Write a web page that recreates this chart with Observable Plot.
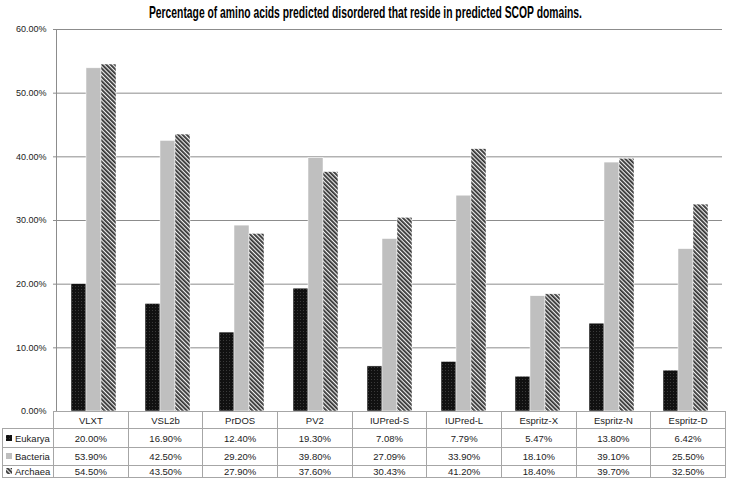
<!DOCTYPE html>
<html>
<head>
<meta charset="utf-8">
<script src="https://cdn.jsdelivr.net/npm/d3@7"></script>
<script src="https://cdn.jsdelivr.net/npm/@observablehq/plot@0.6"></script>
<style>
  html, body { margin: 0; padding: 0; background: #fff; }
  body { width: 731px; height: 480px; overflow: hidden; font-family: "Liberation Sans", sans-serif; position: relative; }
  #title { height: 22px; line-height: 22px; text-align: center; color: #000; padding-top: 2px; box-sizing: border-box; white-space: nowrap; }
  #title span { display: inline-block; font-weight: bold; font-size: 17px; transform-origin: center center; }
  #chart svg { display: block; overflow: visible; }
  #tbl { position: relative; margin-top: -8px; }
  table { border-collapse: collapse; margin-left: 2px; table-layout: fixed; font-size: 9.5px; color: #222; }
  td { border: 1px solid #a6a6a6; text-align: center; padding: 0; white-space: nowrap; }
  td.lab { text-align: left; padding-left: 3px; }
  td.corner { border-top: none; border-left: none; }
  .sw { display: inline-block; vertical-align: middle; margin-right: 3px; position: relative; top: -1px; }
</style>
</head>
<body>
<div id="title"><span>Percentage of amino acids predicted disordered that reside in predicted SCOP domains.</span></div>
<div id="chart"></div>
<div id="tbl"></div>
<script>
const categories = ["VLXT", "VSL2b", "PrDOS", "PV2", "IUPred-S", "IUPred-L", "Espritz-X", "Espritz-N", "Espritz-D"];
const series = ["Eukarya", "Bacteria", "Archaea"];
const eukarya  = [20.00, 16.90, 12.40, 19.30, 7.08, 7.79, 5.47, 13.80, 6.42];
const bacteria = [53.90, 42.50, 29.20, 39.80, 27.09, 33.90, 18.10, 39.10, 25.50];
const archaea  = [54.50, 43.50, 27.90, 37.60, 30.43, 41.20, 18.40, 39.70, 32.50];
const yTicks = [0, 10, 20, 30, 40, 50, 60];

const valuesBySeries = {Eukarya: eukarya, Bacteria: bacteria, Archaea: archaea};
const fmt = v => v.toFixed(2) + "%";
const data = categories.flatMap((c, i) => series.map(s => ({cat: c, s, v: valuesBySeries[s][i]})));
const fills = ["url(#pEuk)", "url(#pBac)", "url(#pArc)"];

// title: condense the bold sans to the narrow width of the original
const tspan = document.querySelector("#title span");
const tw = tspan.getBoundingClientRect().width;
tspan.style.transform = `scaleX(${433 / tw})`;

// shared pattern defs
const defs = `<svg width="0" height="0" style="position:absolute">
<defs>
  <pattern id="pEuk" width="3" height="3" patternUnits="userSpaceOnUse">
    <rect width="3" height="3" fill="#111"/>
    <rect x="0" y="0" width="1" height="1" fill="#3a3a3a"/>
  </pattern>
  <pattern id="pBac" width="4" height="4" patternUnits="userSpaceOnUse">
    <rect width="4" height="4" fill="#bfbfbf"/>
  </pattern>
  <pattern id="pArc" width="3" height="3" patternUnits="userSpaceOnUse" patternTransform="rotate(-45)">
    <rect width="3" height="3" fill="#f0f0f0"/>
    <rect width="1.8" height="3" fill="#333"/>
  </pattern>
</defs></svg>`;
document.body.insertAdjacentHTML("afterbegin", defs);

const plot = Plot.plot({
  width: 731,
  height: 397,
  marginTop: 7,
  marginBottom: 8,
  marginLeft: 53,
  marginRight: 6,
  style: {fontFamily: "Liberation Sans, sans-serif", fontSize: "9px", color: "#222", background: "transparent"},
  fx: {domain: categories, padding: 0, axis: null, label: null},
  x: {domain: series, paddingInner: 0, paddingOuter: 0.85, axis: null},
  y: {domain: [0, 60], label: null},
  color: {domain: series, range: fills},
  marks: [
    Plot.ruleY(yTicks, {stroke: "#8c8c8c", strokeWidth: 1}),
    Plot.barY(data, {fx: "cat", x: "s", y: "v", fill: "s", stroke: "#fff", strokeWidth: 0.5}),
    Plot.axisY(yTicks, {tickSize: 3, tickPadding: 7, tickFormat: fmt, stroke: "#8c8c8c", fill: "#222", label: null, facetAnchor: "left"}),
    Plot.frame({anchor: "left", stroke: "#8c8c8c", facetAnchor: "left"})
  ]
});
document.getElementById("chart").appendChild(plot);

// data table below the chart
const firstW = 51, colW = (731 - 53 - 6) / categories.length;
const table = document.createElement("table");
const cg = document.createElement("colgroup");
cg.innerHTML = `<col style="width:${firstW}px">` + categories.map(() => `<col style="width:${colW}px">`).join("");
table.appendChild(cg);
const rowHeights = [17, 19, 18, 12];
const head = document.createElement("tr");
head.style.height = rowHeights[0] + "px";
head.innerHTML = `<td class="corner"></td>` + categories.map(c => `<td>${c}</td>`).join("");
table.appendChild(head);
series.forEach((s, k) => {
  const tr = document.createElement("tr");
  tr.style.height = rowHeights[k + 1] + "px";
  const sw = `<svg class="sw" width="6" height="6"><rect width="6" height="6" fill="${fills[k]}"/></svg>`;
  tr.innerHTML = `<td class="lab">${sw}${s}</td>` + valuesBySeries[s].map(v => `<td>${fmt(v)}</td>`).join("");
  table.appendChild(tr);
});
document.getElementById("tbl").appendChild(table);
</script>
</body>
</html>
